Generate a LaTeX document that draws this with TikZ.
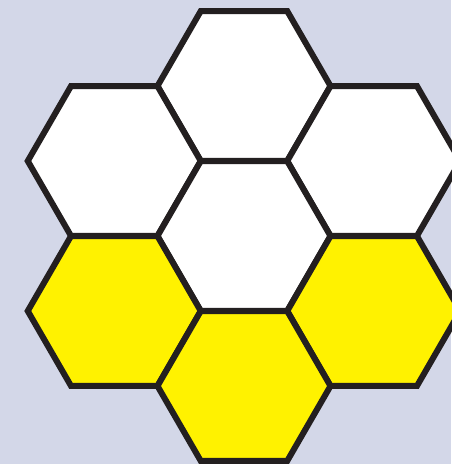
\documentclass[tikz,border=0pt]{standalone}
\definecolor{bgc}{HTML}{D3D7E8}
\definecolor{edgec}{HTML}{231F20}
\definecolor{honey}{HTML}{FFF200}
\tikzset{
  hexcell/.style={draw=edgec, line width=6pt, line join=miter},
}
\newcommand{\hexat}[3]{%
  \path[hexcell, fill=#3] (#1+86.5,#2) -- (#1+43.25,#2+74.9) -- (#1-43.25,#2+74.9) -- (#1-86.5,#2) -- (#1-43.25,#2-74.9) -- (#1+43.25,#2-74.9) -- cycle;}
\begin{document}
\begin{tikzpicture}[x=1pt,y=-1pt]
\fill[bgc] (0,0) rectangle (451,464);
\useasboundingbox (0,0) rectangle (451,464);
\hexat{244}{86}{white}
\hexat{114.25}{161}{white}
\hexat{373.75}{161}{white}
\hexat{244}{236}{white}
\hexat{114.25}{311}{honey}
\hexat{373.75}{311}{honey}
\hexat{244}{386}{honey}
\end{tikzpicture}
\end{document}
